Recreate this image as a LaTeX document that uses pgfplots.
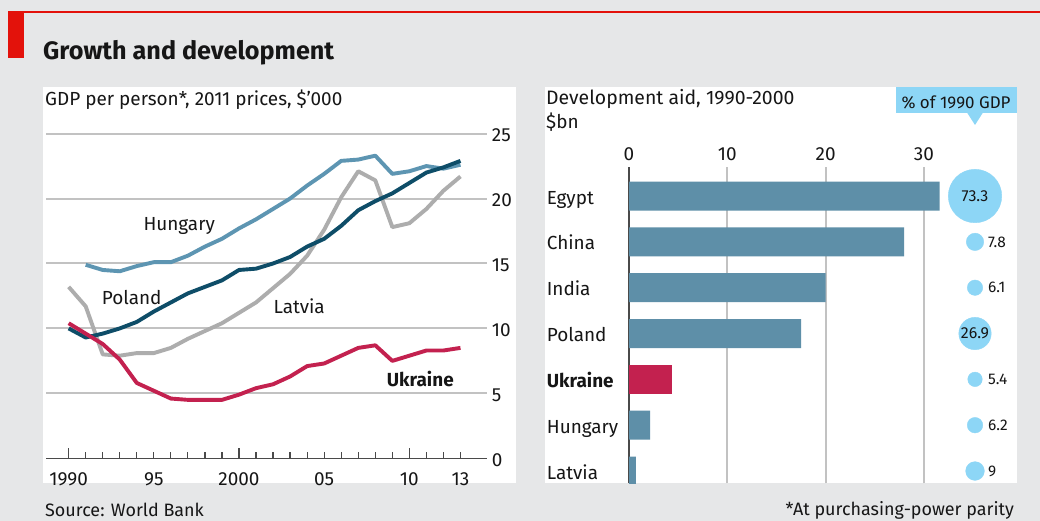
\documentclass[border=0pt]{standalone}
\usepackage{pgfplots}
\pgfplotsset{compat=1.18}
\usepackage{pgfplotstable}
\usepackage{fontspec}
\setmainfont{Fira Sans}
\definecolor{bgc}{HTML}{E6E7E8}
\definecolor{ecored}{HTML}{E3120B}
\definecolor{hun}{HTML}{5D95B2}
\definecolor{pol}{HTML}{0E4D68}
\definecolor{lat}{HTML}{ADADAD}
\definecolor{ukr}{HTML}{C3214F}
\definecolor{barc}{HTML}{5E8FA8}
\definecolor{circ}{HTML}{8DD6F6}
\definecolor{gridc}{HTML}{C2C2C2}
\definecolor{axd}{HTML}{4A4A4A}
\definecolor{txt}{HTML}{161616}
\newcommand\fs[1]{\fontsize{#1}{#1}\selectfont}

\pgfplotstableread{
year v
1991 14.9
1992 14.5
1993 14.4
1994 14.8
1995 15.1
1996 15.1
1997 15.6
1998 16.3
1999 16.9
2000 17.7
2001 18.4
2002 19.2
2003 20.0
2004 21.0
2005 21.9
2006 22.9
2007 23.0
2008 23.3
2009 21.9
2010 22.1
2011 22.5
2012 22.3
2013 22.6
}\hungary
\pgfplotstableread{
year v
1990 10.0
1991 9.3
1992 9.6
1993 10.0
1994 10.5
1995 11.3
1996 12.0
1997 12.7
1998 13.2
1999 13.7
2000 14.5
2001 14.6
2002 15.0
2003 15.5
2004 16.3
2005 16.9
2006 17.9
2007 19.1
2008 19.8
2009 20.4
2010 21.2
2011 22.0
2012 22.4
2013 22.9
}\poland
\pgfplotstableread{
year v
1990 13.2
1991 11.7
1992 8.0
1993 7.9
1994 8.1
1995 8.1
1996 8.5
1997 9.2
1998 9.8
1999 10.4
2000 11.2
2001 12.0
2002 13.1
2003 14.2
2004 15.6
2005 17.6
2006 20.1
2007 22.1
2008 21.4
2009 17.8
2010 18.1
2011 19.2
2012 20.6
2013 21.7
}\latvia
\pgfplotstableread{
year v
1990 10.4
1991 9.6
1992 8.8
1993 7.6
1994 5.8
1995 5.2
1996 4.6
1997 4.5
1998 4.5
1999 4.5
2000 4.9
2001 5.4
2002 5.7
2003 6.3
2004 7.1
2005 7.3
2006 7.9
2007 8.5
2008 8.7
2009 7.5
2010 7.9
2011 8.3
2012 8.3
2013 8.5
}\ukraine
\pgfplotstableread{
aid pos
31.6 6
28.0 5
20.0 4
17.5 3
2.15 1
0.7 0
}\aidblue
\pgfplotstableread{
aid pos
4.4 2
}\aidred

\pgfplotsset{
  gdpcirc/.style={only marks, color=circ, mark=*, mark size=#1,
    mark options={draw=circ, fill=circ},
    point meta=explicit symbolic, nodes near coords,
    every node near coord/.append style={anchor=west, xshift=13bp, inner sep=0pt, font=\fs{15.5}, text=txt}},
  gdpcircin/.style={only marks, color=circ, mark=*, mark size=#1,
    mark options={draw=circ, fill=circ},
    point meta=explicit symbolic, nodes near coords,
    every node near coord/.append style={anchor=center, inner sep=0pt, font=\fs{16}, text=txt}},
}

\begin{document}
\begin{tikzpicture}
\useasboundingbox (0bp,0bp) rectangle (1040bp,521bp);
\fill[bgc] (0bp,0bp) rectangle (1040bp,521bp);
\fill[ecored] (8bp,508.4bp) rectangle (1040bp,509.6bp);
\fill[ecored] (8bp,463bp) rectangle (23.5bp,509.6bp);
\node[anchor=base west, inner sep=0, text=txt, font=\fs{25.3}\bfseries] at (43bp,461bp) {Growth and development};
% white panels
\fill[white] (43.3bp,37.7bp) rectangle (515.7bp,434.3bp);
\fill[white] (545bp,37.7bp) rectangle (1016.7bp,434.3bp);
\node[anchor=base west, inner sep=0, text=txt, font=\fs{19}] at (45bp,415bp) {GDP per person*, 2011 prices, \$’000};
\node[anchor=base west, inner sep=0, text=txt, font=\fs{19.5}] at (546bp,416bp) {Development aid, 1990-2000};
\node[anchor=base west, inner sep=0, text=txt, font=\fs{19}] at (546bp,392.7bp) {\$bn};
\node[anchor=base west, inner sep=0, text=txt, font=\fs{18}] at (45bp,4.5bp) {Source: World Bank};
\node[anchor=base east, inner sep=0, text=txt, font=\fs{18}] at (1014bp,6bp) {*At purchasing-power parity};
% badge
\fill[circ] (896bp,408bp) rectangle (1016.7bp,434bp);
\fill[circ] (967bp,408.5bp) -- (983bp,408.5bp) -- (975bp,396bp) -- cycle;
\node[anchor=base, inner sep=0, text=txt, font=\fs{17}] at (956bp,412.7bp) {\% of 1990 GDP};

% left chart
\begin{axis}[
  at={(46bp,62.7bp)}, anchor=south west,
  scale only axis, width=440.7bp, height=324.7bp,
  xmin=1988.67, xmax=2014.54, ymin=0, ymax=25,
  axis line style={draw=none},
  ytick={5,10,...,25},
  ytick style={draw=none},
  extra y ticks={0},
  extra y tick style={ymajorgrids=true, major grid style={axd, line width=1.5bp}},
  yticklabel pos=right,
  ymajorgrids, major grid style={gridc, line width=2bp},
  yticklabel style={anchor=west, xshift=5bp, yshift=-1.5bp, inner sep=0pt},
  xtick pos=left,
  tick align=inside,
  xtick={1990,2000,2010},
  xticklabels={1990,2000,10},
  major tick length=10bp,
  minor xtick={1991,...,2013},
  minor tick length=6.3bp,
  extra x ticks={1995,2005,2013},
  extra x tick labels={95,05,13},
  extra x tick style={major tick length=0pt},
  xtick style={axd, line width=1.2bp},
  xticklabel style={anchor=base, yshift=-26.7bp, inner sep=0pt},
  tick label style={font=\fs{19}, text=txt},
  /pgf/number format/assume math mode=true,
]
\addplot[hun, line width=3.9bp, line join=round] table[x=year,y=v] {\hungary};
\addplot[lat, line width=3.9bp, line join=round] table[x=year,y=v] {\latvia};
\addplot[pol, line width=3.9bp, line join=round] table[x=year,y=v] {\poland};
\addplot[ukr, line width=3.9bp, line join=round] table[x=year,y=v] {\ukraine};
\end{axis}
\node[anchor=base west, inner sep=0, text=txt, font=\fs{19}] at (143.3bp,290.3bp) {Hungary};
\node[anchor=base west, inner sep=0, text=txt, font=\fs{19}] at (101.7bp,216.7bp) {Poland};
\node[anchor=base west, inner sep=0, text=txt, font=\fs{19}] at (273.3bp,207.7bp) {Latvia};
\node[anchor=base west, inner sep=0, text=txt, font=\fs{19}\bfseries] at (386.7bp,134.3bp) {Ukraine};

% right chart
\begin{axis}[
  at={(629bp,37.7bp)}, anchor=south west,
  scale only axis, width=393.2bp, height=316.6bp,
  xmin=0, xmax=40, ymin=-0.268, ymax=6.64,
  axis line style={draw=none},
  major tick length=0pt,
  tick style={draw=none},
  xtick={10,20,30},
  extra x ticks={0},
  extra x tick style={xmajorgrids=true, major grid style={axd, line width=1.8bp}},
  xticklabel pos=right,
  xmajorgrids, major grid style={gridc, line width=2bp},
  xticklabel style={anchor=base, yshift=6.7bp, inner sep=0pt},
  ytick={0,1,2,3,4,5,6},
  yticklabels={Latvia,Hungary,\textbf{Ukraine},Poland,India,China,Egypt},
  yticklabel style={anchor=base west, xshift=-82.3bp, yshift=-8bp, inner sep=0pt},
  tick label style={font=\fs{19}, text=txt},
  /pgf/number format/assume math mode=true,
]
\addplot[xbar, bar width=29bp, bar shift=0pt, fill=barc, draw=none] table[x=aid,y=pos] {\aidblue};
\addplot[xbar, bar width=29bp, bar shift=0pt, fill=ukr, draw=none] table[x=aid,y=pos] {\aidred};
% % of 1990 GDP (circle area proportional to value)
\addplot[gdpcircin=26.71bp] coordinates {(35.2,6) [73.3]};
\addplot[gdpcirc=8.71bp] coordinates {(35.2,5) [7.8]};
\addplot[gdpcirc=7.71bp] coordinates {(35.2,4) [6.1]};
\addplot[gdpcircin=16.18bp] coordinates {(35.2,3) [26.9]};
\addplot[gdpcirc=7.25bp] coordinates {(35.2,2) [5.4]};
\addplot[gdpcirc=7.77bp] coordinates {(35.2,1) [6.2]};
\addplot[gdpcirc=9.36bp] coordinates {(35.2,0) [9]};
\end{axis}
\end{tikzpicture}
\end{document}
